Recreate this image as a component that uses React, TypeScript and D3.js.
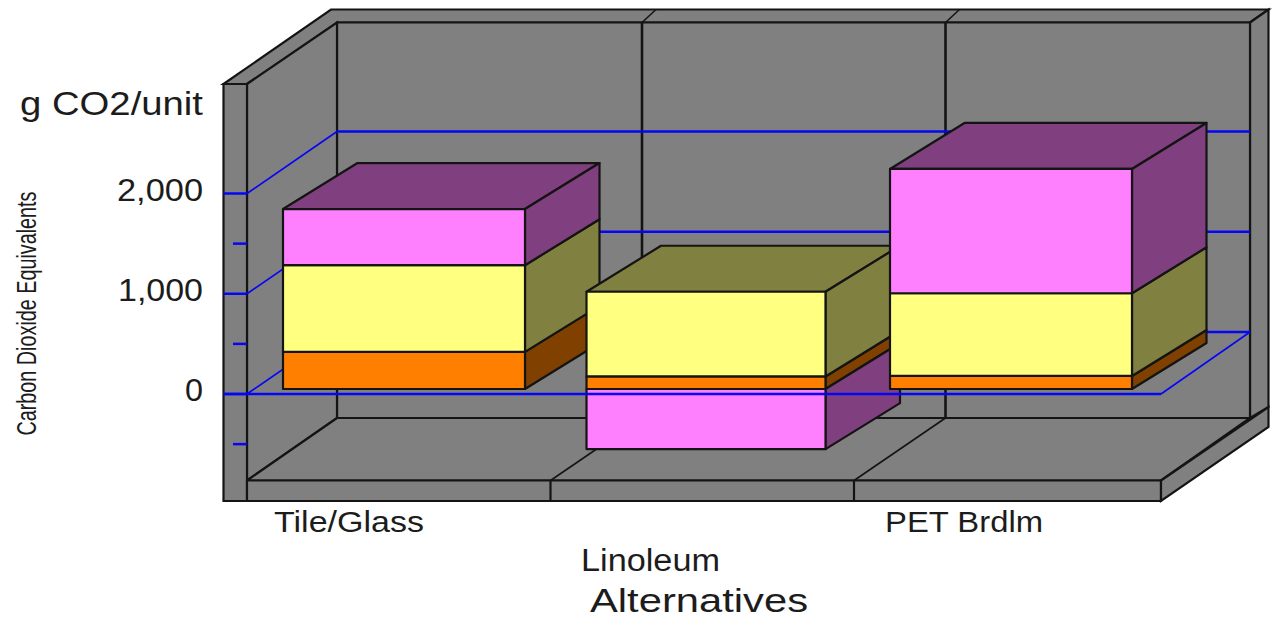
import React from "react";
import * as d3 from "d3";

// Alternatives and their greenhouse-gas contributions (g CO2 per unit)
const categories = ["Tile/Glass", "Linoleum", "PET Brdlm"];
const orangeValues = [370, 125, 130];
const yellowValues = [865, 845, 825];
const pinkValues = [560, -600, 1240];
const majorTicks = [0, 1000, 2000];
const minorTicks = [-500, 500, 1500];

const WIDTH = 1276;
const HEIGHT = 619;

// Colours of each segment: front face and shaded side/top
const segmentKeys = ["orange", "yellow", "pink"];
const frontFill: Record<string, string> = { orange: "#FF8000", yellow: "#FFFF80", pink: "#FF80FF" };
const sideFill: Record<string, string> = { orange: "#804000", yellow: "#808040", pink: "#804080" };

const WALL = "#808080";
const INK = "#141414";
const BLUE = "#0606F4";

// Projection of the chart box
const frontLeft = 247;
const frontRight = 1161;
const wallDx = 90;
const wallDy = 62;
const backRight = 1250;
const outerRight = 1268.5;

// Projection of the bars inside the box
const barInsetY = 5;
const barDepthX = 74.5;
const barDepthY = 46;
const barOffset = 36;
const barWidths = [242, 239, 242];

const y = d3.scaleLinear().domain([0, 2000]).range([394, 193.5]);
const band = d3.scaleBand<string>().domain(categories).range([frontLeft, frontLeft + 303.5 * 3]);

const rows = categories.map((c, i) => ({
  category: c,
  orange: orangeValues[i],
  yellow: yellowValues[i],
  pink: pinkValues[i],
}));
const stacked = d3.stack<any>().keys(segmentKeys).offset(d3.stackOffsetDiverging)(rows);

const poly = (pts: [number, number][]) => (d3.line()(pts) ?? "") + "Z";

function Wall({ pts }: { pts: [number, number][] }) {
  return <path d={poly(pts)} fill={WALL} stroke={INK} strokeWidth={2.2} strokeLinejoin="miter" />;
}

function Label(props: {
  x: number;
  y: number;
  len: number;
  size: number;
  text: string;
  transform?: string;
}) {
  return (
    <text
      x={props.x}
      y={props.y}
      fontSize={props.size}
      textLength={props.len}
      lengthAdjust="spacingAndGlyphs"
      transform={props.transform}
      fontFamily="'Liberation Sans', Arial, sans-serif"
      fill="#1c1c1c"
    >
      {props.text}
    </text>
  );
}

function Bar({ index }: { index: number }) {
  const cat = categories[index];
  const x0 = (band(cat) as number) + barOffset;
  const x1 = x0 + barWidths[index];
  const segs = stacked.map((s) => {
    const [a, b] = s[index];
    return { key: s.key, value: rows[index][s.key as "orange"], y0: y(a) - barInsetY, y1: y(b) - barInsetY };
  });
  const positive = segs.filter((s) => s.value > 0);
  const topSeg = positive[positive.length - 1];
  const topY = topSeg.y1;
  return (
    <g stroke={INK} strokeWidth={2.2} strokeLinejoin="round">
      <path
        d={poly([
          [x0, topY],
          [x0 + barDepthX, topY - barDepthY],
          [x1 + barDepthX, topY - barDepthY],
          [x1, topY],
        ])}
        fill={sideFill[topSeg.key]}
      />
      {segs.map((s) => (
        <g key={s.key}>
          <path
            d={poly([
              [x1, s.y0],
              [x1 + barDepthX, s.y0 - barDepthY],
              [x1 + barDepthX, s.y1 - barDepthY],
              [x1, s.y1],
            ])}
            fill={sideFill[s.key]}
          />
          <rect
            x={x0}
            y={Math.min(s.y0, s.y1)}
            width={x1 - x0}
            height={Math.abs(s.y1 - s.y0)}
            fill={frontFill[s.key]}
          />
        </g>
      ))}
    </g>
  );
}

export default function App() {
  const dividers = categories.slice(1).map((c) => band(c) as number);
  const floorY = 480.5;
  const backFloorY = 418;

  return (
    <svg
      width={WIDTH}
      height={HEIGHT}
      viewBox={`0 0 ${WIDTH} ${HEIGHT}`}
      style={{ position: "fixed", left: 0, top: 0, display: "block", background: "#fff" }}
    >
      {/* Box: rim, walls, floor and slab */}
      <Wall pts={[[223.5, 84], [331, 9.5], [outerRight, 9.5], [backRight, 22.5], [337, 22.5], [247, 84]]} />
      <Wall pts={[[backRight, 22.5], [outerRight, 9.5], [outerRight, 407], [backRight, backFloorY]]} />
      <Wall pts={[[337, 22.5], [backRight, 22.5], [backRight, backFloorY], [337, backFloorY]]} />
      <Wall pts={[[247, 84], [337, 22.5], [337, backFloorY], [247, floorY]]} />
      <Wall pts={[[247, floorY], [337, backFloorY], [backRight, backFloorY], [frontRight, floorY]]} />
      <Wall pts={[[223.5, 84], [247, 84], [247, 501], [223.5, 501]]} />
      <Wall pts={[[247, floorY], [frontRight, floorY], [frontRight, 501], [247, 501]]} />
      <Wall pts={[[frontRight, floorY], [outerRight, 407], [outerRight, 427], [frontRight, 501]]} />

      {/* Category separators on back wall, rim, floor and slab */}
      <g stroke={INK} fill="none">
        {dividers.map((x) => {
          const bx = x + wallDx + 1.5;
          return (
            <g key={x}>
              <line x1={bx} x2={bx} y1={22.5} y2={backFloorY} strokeWidth={2.6} />
              <line x1={bx} x2={bx + 14} y1={22.5} y2={9.5} strokeWidth={1.6} />
              <line x1={x} x2={x} y1={floorY} y2={501} strokeWidth={2.2} />
              <line x1={x} x2={bx} y1={floorY} y2={backFloorY} strokeWidth={1.6} />
            </g>
          );
        })}
      </g>

      {/* Value gridlines wrapping the left and back walls */}
      <g stroke={BLUE} fill="none">
        {majorTicks.map((t) => (
          <g key={t}>
            <line x1={223.5} x2={frontLeft} y1={y(t)} y2={y(t)} strokeWidth={2.5} />
            <line x1={frontLeft} x2={frontLeft + wallDx} y1={y(t)} y2={y(t) - wallDy} strokeWidth={1.6} />
            <line x1={frontLeft + wallDx} x2={backRight} y1={y(t) - wallDy} y2={y(t) - wallDy} strokeWidth={2.5} />
          </g>
        ))}
        {minorTicks.map((t) => (
          <line key={t} x1={233} x2={frontLeft} y1={y(t)} y2={y(t)} strokeWidth={2.5} />
        ))}
      </g>

      {categories.map((c, i) => (
        <Bar key={c} index={i} />
      ))}

      {/* Zero plane outline drawn over the bars */}
      <g stroke={BLUE} fill="none">
        <line x1={223.5} x2={frontRight} y1={y(0)} y2={y(0)} strokeWidth={2.5} />
        <line x1={frontRight} x2={backRight} y1={y(0)} y2={y(0) - wallDy} strokeWidth={1.6} />
      </g>

      {/* Axis and category text */}
      <Label x={20} y={115} len={183} size={33} text="g CO2/unit" />
      <Label x={117} y={201} len={86} size={31} text="2,000" />
      <Label x={118} y={301} len={85} size={31} text="1,000" />
      <Label x={185} y={401} len={18} size={32} text="0" />
      <Label x={274} y={532} len={150} size={30} text={categories[0]} />
      <Label x={581} y={570.5} len={139} size={31} text={categories[1]} />
      <Label x={885} y={532} len={158} size={30} text={categories[2]} />
      <Label x={590} y={612} len={218} size={33} text="Alternatives" />
      <Label
        x={0}
        y={0}
        len={244}
        size={27}
        text="Carbon Dioxide Equivalents"
        transform="translate(36,435.5) rotate(-90)"
      />
    </svg>
  );
}
